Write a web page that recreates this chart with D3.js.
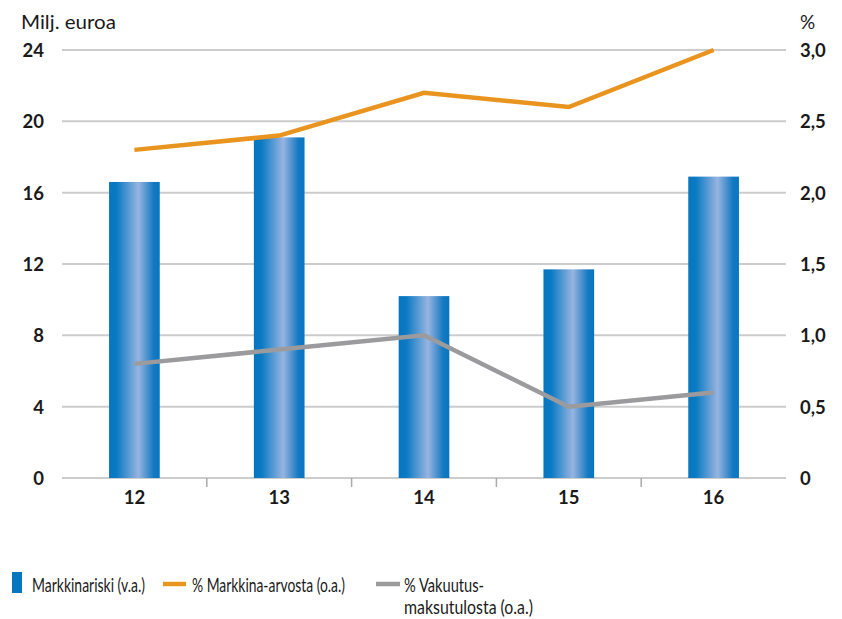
<!doctype html>
<html>
<head>
<meta charset="utf-8">
<script src="https://d3js.org/d3.v7.min.js"></script>
<style>
  body { margin: 0; background: #fff; }
  svg text { font-family: Lato, "Open Sans", sans-serif; fill: #1a1a1a; }
</style>
</head>
<body>
<script>
// data
var years = ["12", "13", "14", "15", "16"];
var markkinariski = [16.6, 19.1, 10.2, 11.7, 16.9];
var pctMarkkina = [2.3, 2.4, 2.7, 2.6, 3.0];
var pctVakuutus = [0.8, 0.9, 1.0, 0.5, 0.6];
var leftTicks = [0, 4, 8, 12, 16, 20, 24];
var rightTicks = [0, 0.5, 1.0, 1.5, 2.0, 2.5, 3.0];

(function() {
var width = 842, height = 619;
var mLeft = 62, mRight = 786, mTop = 50, mBottom = 478;

var svg = d3.select("body").append("svg")
    .attr("width", width)
    .attr("height", height);

var grad = svg.append("defs").append("linearGradient")
    .attr("id", "barGrad")
    .attr("x1", "0%").attr("x2", "100%").attr("y1", "0%").attr("y2", "0%");
grad.append("stop").attr("offset", "0%").attr("stop-color", "#0676c1");
grad.append("stop").attr("offset", "15%").attr("stop-color", "#0a7ac3");
grad.append("stop").attr("offset", "58%").attr("stop-color", "#97b4e0");
grad.append("stop").attr("offset", "88%").attr("stop-color", "#1479c2");
grad.append("stop").attr("offset", "100%").attr("stop-color", "#0676c1");

var x = d3.scaleBand().domain(years).range([mLeft, mRight]).paddingInner(0.65).paddingOuter(0.325);
var xb = d3.scaleBand().domain(years).range([mLeft, mRight]);
var yL = d3.scaleLinear().domain([0, 24]).range([mBottom, mTop]);
var yR = d3.scaleLinear().domain([0, 3]).range([mBottom, mTop]);

// gridlines
svg.append("g").selectAll("line").data(leftTicks).enter().append("line")
    .attr("x1", mLeft).attr("x2", mRight)
    .attr("y1", function(d) { return yL(d); })
    .attr("y2", function(d) { return yL(d); })
    .attr("stroke", "#cccccc").attr("stroke-width", 2);

// x axis separators
svg.append("g").selectAll("line").data(years.slice(1)).enter().append("line")
    .attr("x1", function(d) { return xb(d); })
    .attr("x2", function(d) { return xb(d); })
    .attr("y1", mBottom).attr("y2", mBottom + 9)
    .attr("stroke", "#aaaaaa").attr("stroke-width", 1.5);

// bars
svg.append("g").selectAll("rect").data(markkinariski).enter().append("rect")
    .attr("x", function(d, i) { return x(years[i]); })
    .attr("width", x.bandwidth())
    .attr("y", function(d) { return yL(d); })
    .attr("height", function(d) { return yL(0) - yL(d); })
    .attr("fill", "url(#barGrad)");

var line = d3.line()
    .x(function(d, i) { return xb(years[i]) + xb.bandwidth() / 2; })
    .y(function(d) { return yR(d); });

svg.append("path").datum(pctVakuutus)
    .attr("d", line).attr("fill", "none")
    .attr("stroke", "#9b9b9d").attr("stroke-width", 4.5);

svg.append("path").datum(pctMarkkina)
    .attr("d", line).attr("fill", "none")
    .attr("stroke", "#e8941f").attr("stroke-width", 4.5);

// axis labels
svg.append("g").selectAll("text").data(leftTicks).enter().append("text")
    .attr("x", 44).attr("y", function(d) { return yL(d) + 7; })
    .attr("text-anchor", "end")
    .attr("font-size", 18.5).attr("font-weight", "bold")
    .text(function(d) { return d; });

svg.append("g").selectAll("text").data(rightTicks).enter().append("text")
    .attr("x", 800).attr("y", function(d) { return yR(d) + 7; })
    .attr("font-size", 18.5).attr("font-weight", "bold")
    .text(function(d) { return d === 0 ? "0" : d.toFixed(1).replace(".", ","); });

svg.append("g").selectAll("text").data(years).enter().append("text")
    .attr("x", function(d) { return xb(d) + xb.bandwidth() / 2; })
    .attr("y", 504)
    .attr("text-anchor", "middle")
    .attr("font-size", 18.5).attr("font-weight", "bold")
    .text(function(d) { return d; });

function label(tx, ty, str, len) {
    var t = svg.append("text").attr("x", tx).attr("y", ty).attr("font-size", 19).text(str);
    if (len) t.attr("textLength", len).attr("lengthAdjust", "spacingAndGlyphs");
    return t;
}

label(21, 29, "Milj. euroa", 95);
label(800, 29, "%");

// legend
svg.append("rect").attr("x", 12).attr("y", 572).attr("width", 10).attr("height", 21).attr("fill", "#0676c1");
label(32, 592, "Markkinariski (v.a.)", 113);
svg.append("line").attr("x1", 163).attr("x2", 186).attr("y1", 584).attr("y2", 584)
    .attr("stroke", "#e8941f").attr("stroke-width", 4.5);
label(192, 592, "% Markkina-arvosta (o.a.)", 153);
svg.append("line").attr("x1", 376).attr("x2", 400).attr("y1", 584).attr("y2", 584)
    .attr("stroke", "#9b9b9d").attr("stroke-width", 4.5);
label(404, 592, "% Vakuutus-", 80);
label(404, 614, "maksutulosta (o.a.)", 129);
})();
</script>
</body>
</html>
